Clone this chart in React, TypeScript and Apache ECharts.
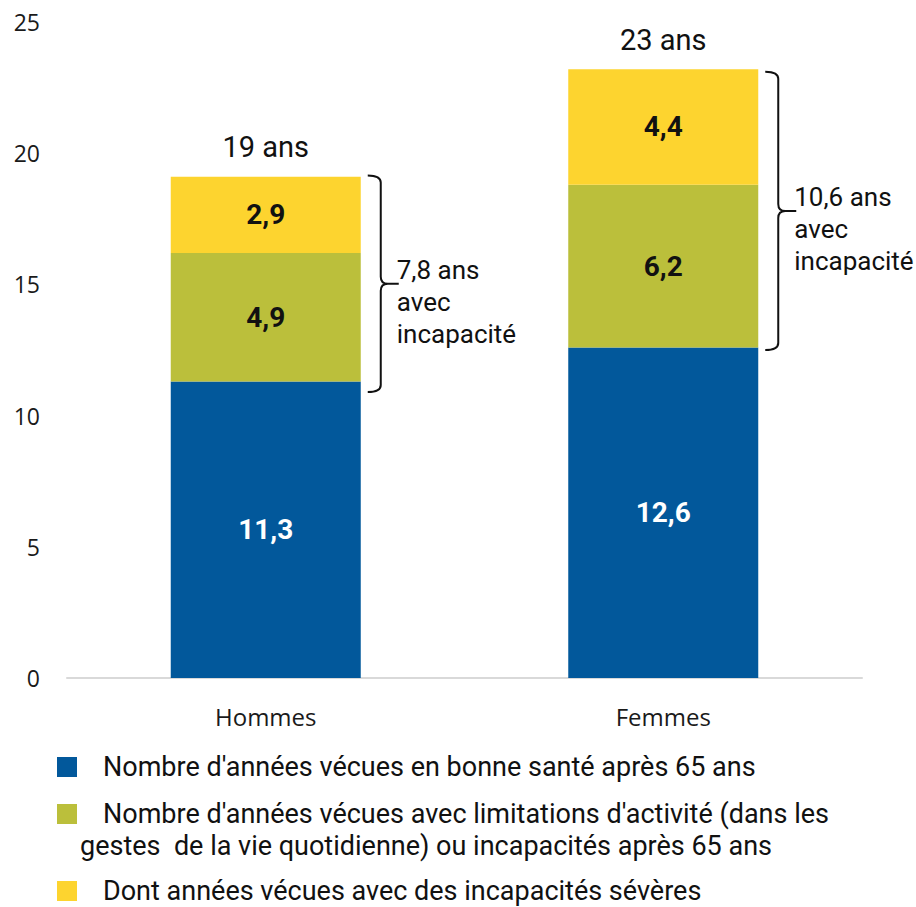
import React, { useEffect, useRef } from "react";
import * as echarts from "echarts";

const categories = ["Hommes", "Femmes"];
const healthyYears = [11.3, 12.6];
const limitedYears = [4.9, 6.2];
const severeYears = [2.9, 4.4];
const totalLabels = ["19 ans", "23 ans"];
const braceLow = [10.9, 12.5];
const braceHigh = [19.15, 23.1];
const braceLabels = ["7,8 ans\navec\nincapacité", "10,6 ans\navec\nincapacité"];
const seriesNames = [
  "Nombre d'années vécues en bonne santé après 65 ans",
  "Nombre d'années vécues avec limitations d'activité (dans les\ngestes  de la vie quotidienne) ou incapacités après 65 ans",
  "Dont années vécues avec des incapacités sévères",
];
const colors = ["#02589B", "#BBBF3B", "#FDD42F"];
const labelColors = ["#ffffff", "#111111", "#111111"];
const yMin = 0;
const yMax = 25;
const yInterval = 5;

const BAR_W = 190;
const ROBOTO = "Roboto, 'Noto Sans', sans-serif";
const AXISFONT = "'Open Sans', 'Noto Sans', sans-serif";

export default function App() {
  const ref = useRef<HTMLDivElement>(null);
  useEffect(() => {
    if (!ref.current) return;
    const chart = echarts.init(ref.current, null, { renderer: "svg" });
    const fmt = (v: number) => String(v).replace(".", ",");
    const values = [healthyYears, limitedYears, severeYears];
    const barSeries = values.map((arr, i) => ({
      name: seriesNames[i],
      type: "bar",
      stack: "total",
      barWidth: BAR_W,
      data: arr,
      itemStyle: { color: colors[i] },
      label: {
        show: true,
        position: "inside",
        formatter: (p: any) => fmt(p.value),
        color: labelColors[i],
        fontFamily: ROBOTO,
        fontWeight: "bold",
        fontSize: 28,
      },
    }));
    const totalSeries = {
      name: "total",
      type: "bar",
      stack: "total",
      barWidth: BAR_W,
      data: categories.map(() => 0),
      itemStyle: { color: "transparent" },
      label: {
        show: true,
        position: "top",
        distance: 15,
        formatter: (p: any) => totalLabels[p.dataIndex],
        color: "#111111",
        fontFamily: ROBOTO,
        fontSize: 29,
      },
    };
    const braceSeries = {
      name: "brace",
      type: "custom",
      silent: true,
      clip: false,
      z: 10,
      data: categories.map((_, i) => [i, braceLow[i], braceHigh[i]]),
      encode: { x: 0, y: [1, 2] },
      renderItem: (params: any, api: any) => {
        const idx = api.value(0);
        const pTop = api.coord([idx, api.value(2)]);
        const pBot = api.coord([idx, api.value(1)]);
        const xr = pTop[0] + BAR_W / 2;
        const x0 = xr + 7;
        const x1 = xr + 20;
        const x2 = xr + 38;
        const yT = pTop[1];
        const yB = pBot[1];
        const yM = (yT + yB) / 2;
        const r = 7;
        const d =
          `M${x0},${yT} Q${x1},${yT} ${x1},${yT + r} L${x1},${yM - r} ` +
          `Q${x1},${yM} ${x1 + r},${yM} L${x2},${yM} M${x1 + r},${yM} ` +
          `Q${x1},${yM} ${x1},${yM + r} L${x1},${yB - r} Q${x1},${yB} ${x0},${yB}`;
        return {
          type: "group",
          children: [
            {
              type: "path",
              shape: { pathData: d },
              style: { stroke: "#111111", lineWidth: 2, fill: "none" },
            },
            {
              type: "text",
              style: {
                text: braceLabels[params.dataIndex],
                x: x1 + 16,
                y: yM - 30,
                align: "left",
                verticalAlign: "top",
                font: `26px ${ROBOTO}`,
                lineHeight: 32,
                fill: "#111111",
              },
            },
          ],
        };
      },
    };

    const legendGraphics: any[] = [];
    const legendTops = [757, 804, 881];
    seriesNames.forEach((name, i) => {
      const top = legendTops[i];
      legendGraphics.push({
        type: "rect",
        left: 57,
        top: top,
        shape: { width: 20, height: 20 },
        style: { fill: colors[i] },
      });
      const lines = name.split("\n");
      legendGraphics.push({
        type: "text",
        left: 103,
        top: top - 4,
        style: { text: lines[0], font: `27px ${ROBOTO}`, fill: "#111111" },
      });
      if (lines.length > 1) {
        legendGraphics.push({
          type: "text",
          left: 80,
          top: top + 28,
          style: { text: lines[1], font: `27px ${ROBOTO}`, fill: "#111111" },
        });
      }
    });

    chart.setOption({
      animation: false,
      grid: { left: 67, right: 54, top: 22, bottom: 229, containLabel: false },
      xAxis: {
        type: "category",
        data: categories,
        axisLine: { lineStyle: { color: "#D9D9D9", width: 2 } },
        axisTick: { show: false },
        axisLabel: {
          margin: 26,
          fontFamily: AXISFONT,
          fontSize: 24,
          color: "#1a1a1a",
        },
      },
      yAxis: {
        type: "value",
        min: yMin,
        max: yMax,
        interval: yInterval,
        splitLine: { show: false },
        axisLine: { show: false },
        axisTick: { show: false },
        axisLabel: {
          margin: 27,
          fontFamily: AXISFONT,
          fontSize: 23,
          color: "#1a1a1a",
        },
      },
      series: [...barSeries, totalSeries, braceSeries],
      graphic: legendGraphics,
    });
    return () => chart.dispose();
  }, []);
  return (
    <div
      ref={ref}
      style={{ position: "fixed", left: 0, top: 0, width: 916, height: 907, background: "#fff" }}
    />
  );
}
